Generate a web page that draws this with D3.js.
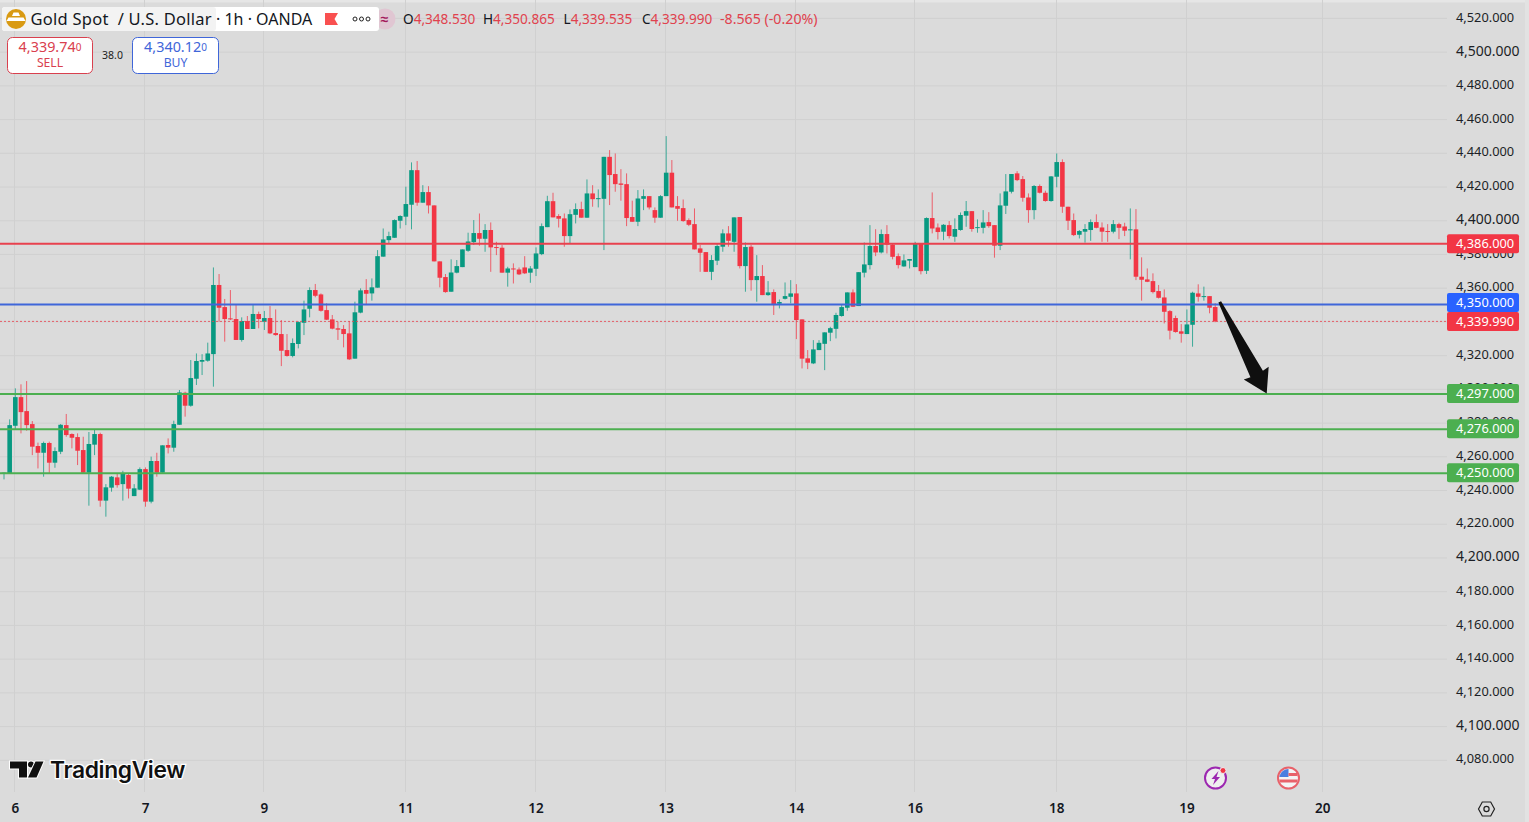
<!DOCTYPE html>
<html>
<head>
<meta charset="utf-8">
<script src="https://cdn.jsdelivr.net/npm/d3@7"></script>
<style>
  html, body { margin: 0; padding: 0; background: #dbdbdb; overflow: hidden; }
  text { font-family: "Noto Sans", sans-serif; }
</style>
</head>
<body>
<script>
// Hourly candles
var opens = [
  4249.9,4249.9,4278.1,4295.1,4286.8,4279.1,4266.1,4262.1,4267.9,4256.2,
  4262.7,4278.5,4273.2,4271.4,4263.7,4250.3,4266.9,4273.2,4233.7,4241.4,
  4247.5,4243.5,4248.9,4236.4,4240.2,4252.4,4233.1,4257.2,4250.3,4266.7,
  4265.1,4278.7,4297.7,4290.0,4306.0,4316.1,4316.7,4320.6,4361.6,4348.5,
  4341.8,4341.4,4329.0,4340.2,4335.5,4344.4,4339.8,4342.0,4333.1,4332.5,
  4323.0,4319.5,4326.6,4339.2,4347.5,4358.6,4356.0,4346.7,4341.2,4335.9,
  4335.5,4332.9,4317.9,4345.2,4358.6,4356.6,4360.0,4378.4,4388.2,4389.6,
  4399.7,4402.1,4409.2,4429.7,4410.4,4416.7,4408.8,4375.6,4366.3,4357.6,
  4368.9,4372.2,4381.9,4387.0,4392.4,4389.0,4394.2,4384.1,4383.7,4368.9,
  4371.4,4370.8,4372.0,4368.9,4371.2,4379.9,4395.9,4411.3,4402.5,4401.1,
  4390.6,4403.2,4406.6,4401.5,4415.9,4412.5,4412.7,4437.6,4427.4,4421.8,
  4421.4,4401.9,4399.1,4412.7,4414.3,4406.0,4401.5,4414.3,4428.2,4408.4,
  4407.2,4400.1,4397.7,4383.3,4381.1,4369.4,4376.0,4384.3,4392.2,4387.2,
  4401.9,4372.8,4384.3,4364.5,4366.9,4355.6,4357.4,4350.5,4353.4,4354.6,
  4356.6,4341.2,4318.1,4315.1,4323.0,4326.7,4333.3,4335.6,4343.2,4348.1,
  4357.2,4349.1,4368.9,4373.4,4384.7,4380.9,4391.8,4385.5,4378.7,4372.6,
  4376.0,4372.2,4386.3,4370.0,4401.3,4395.7,4393.2,4397.1,4390.2,4394.2,
  4402.7,4405.4,4395.5,4395.5,4398.9,4397.1,4384.9,4408.6,4416.9,4427.8,
  4424.4,4413.5,4406.0,4420.3,4416.3,4411.4,4425.8,4434.5,4408.0,4400.1,
  4391.4,4393.2,4394.2,4398.9,4395.7,4393.6,4393.2,4397.7,4396.3,4394.2,
  4394.6,4366.5,4364.9,4363.9,4358.0,4354.2,4346.1,4342.0,4334.1,4332.5,
  4338.0,4356.6,4354.6,4355.0,4348.53
];
var highs = [
  4250.3,4281.9,4300.3,4302.7,4304.6,4280.9,4268.1,4268.7,4268.7,4265.3,
  4279.1,4285.1,4273.6,4273.6,4271.6,4274.4,4275.6,4274.0,4243.5,4248.3,
  4249.9,4251.4,4249.9,4243.5,4253.4,4253.4,4259.8,4262.1,4266.5,4270.6,
  4281.1,4299.3,4298.3,4317.1,4321.0,4320.6,4327.4,4372.0,4368.1,4353.3,
  4358.6,4349.7,4342.4,4343.2,4349.7,4345.8,4346.2,4349.1,4347.1,4340.8,
  4332.5,4329.9,4340.0,4352.3,4360.2,4362.2,4356.6,4350.7,4343.8,4339.8,
  4337.8,4340.2,4351.7,4359.6,4365.1,4365.5,4382.3,4395.1,4393.2,4400.5,
  4403.0,4419.9,4434.3,4435.1,4420.8,4420.2,4408.8,4375.6,4368.1,4376.8,
  4376.4,4382.7,4392.6,4400.1,4404.0,4397.7,4398.7,4387.2,4385.3,4372.4,
  4374.4,4372.0,4378.7,4372.8,4383.9,4398.1,4414.5,4416.3,4403.6,4404.0,
  4406.4,4410.0,4411.0,4424.2,4420.8,4418.3,4437.6,4441.6,4439.6,4430.3,
  4427.8,4411.6,4417.9,4418.3,4414.3,4407.6,4414.9,4449.9,4435.7,4414.3,
  4412.3,4401.1,4407.0,4385.3,4381.1,4379.3,4386.2,4394.6,4396.5,4401.7,
  4401.9,4386.8,4385.3,4379.3,4373.4,4363.9,4359.0,4353.0,4363.1,4364.5,
  4362.1,4341.2,4323.0,4328.9,4328.9,4333.5,4336.8,4345.1,4349.7,4357.2,
  4359.0,4369.2,4386.8,4397.1,4394.7,4394.5,4397.1,4386.3,4380.3,4379.7,
  4377.0,4387.2,4386.3,4401.7,4416.5,4398.1,4397.7,4399.5,4401.1,4404.6,
  4411.4,4405.4,4400.5,4406.0,4404.8,4397.1,4415.9,4427.4,4427.4,4429.1,
  4426.2,4415.9,4420.9,4421.2,4417.5,4426.2,4439.6,4436.1,4408.0,4404.0,
  4394.2,4397.7,4400.5,4403.5,4398.7,4397.7,4400.1,4398.5,4398.5,4407.0,
  4406.6,4378.0,4371.4,4368.5,4361.6,4359.0,4346.7,4343.4,4338.4,4347.1,
  4357.6,4362.0,4360.6,4355.0,4350.865
];
var lows = [
  4246.3,4249.9,4275.6,4273.6,4275.2,4260.7,4252.8,4247.9,4249.9,4253.2,
  4261.3,4271.6,4264.7,4254.8,4249.9,4230.7,4260.7,4230.1,4224.2,4239.0,
  4241.4,4233.7,4235.0,4236.4,4240.0,4230.1,4232.1,4247.9,4250.3,4261.7,
  4262.7,4278.7,4283.5,4289.4,4302.3,4308.2,4316.1,4301.3,4339.8,4328.0,
  4340.8,4329.0,4328.0,4335.5,4335.5,4335.9,4334.9,4332.5,4331.5,4313.5,
  4319.1,4318.7,4324.0,4331.9,4342.4,4354.3,4345.8,4340.8,4335.3,4329.0,
  4324.6,4317.1,4317.9,4344.8,4349.7,4352.3,4360.0,4378.4,4386.2,4389.6,
  4395.1,4397.1,4394.6,4408.6,4410.4,4404.0,4375.6,4360.2,4357.0,4357.6,
  4368.5,4372.2,4381.3,4385.3,4384.9,4381.3,4369.4,4379.3,4368.9,4360.6,
  4362.5,4367.5,4368.1,4362.9,4366.9,4379.3,4395.9,4401.7,4395.7,4384.3,
  4385.9,4398.1,4401.5,4401.5,4408.0,4407.6,4382.3,4409.0,4416.9,4411.6,
  4396.5,4399.1,4396.5,4406.0,4406.4,4398.5,4401.5,4414.3,4407.6,4399.7,
  4399.1,4396.5,4382.7,4369.4,4369.4,4364.5,4373.4,4381.3,4384.3,4381.3,
  4371.4,4357.6,4358.2,4351.7,4355.6,4355.2,4343.8,4347.7,4353.0,4350.7,
  4329.5,4312.1,4311.7,4314.7,4323.0,4311.1,4328.3,4329.9,4342.8,4346.3,
  4348.7,4349.1,4366.1,4370.8,4378.7,4380.3,4380.3,4376.8,4371.4,4372.4,
  4371.4,4372.2,4367.9,4368.1,4392.2,4388.6,4388.2,4389.2,4387.2,4393.8,
  4396.1,4393.2,4392.6,4392.2,4395.5,4377.8,4382.3,4403.7,4415.9,4423.2,
  4411.0,4398.5,4400.5,4415.9,4411.0,4411.0,4419.5,4404.4,4394.2,4390.6,
  4389.2,4386.7,4387.8,4395.2,4387.2,4387.2,4392.2,4388.8,4390.6,4376.8,
  4364.5,4352.3,4363.3,4356.6,4353.6,4338.8,4329.3,4333.3,4327.4,4332.5,
  4325.0,4351.7,4352.3,4344.8,4339.535
];
var closes = [
  4250.3,4278.5,4295.1,4286.2,4278.5,4265.7,4262.1,4267.9,4256.2,4263.1,
  4278.7,4272.6,4271.0,4263.3,4250.3,4267.3,4273.2,4233.7,4241.6,4247.9,
  4242.9,4249.9,4240.8,4241.0,4252.4,4233.1,4257.2,4250.3,4266.5,4265.1,
  4279.1,4297.9,4290.0,4306.4,4316.5,4317.1,4321.0,4361.6,4348.1,4341.4,
  4341.2,4329.0,4340.2,4335.5,4344.4,4341.4,4342.0,4332.9,4331.9,4322.6,
  4319.5,4327.2,4339.6,4347.1,4358.6,4355.2,4346.3,4341.0,4335.7,4335.1,
  4332.5,4317.5,4345.4,4358.4,4356.4,4360.2,4378.7,4388.6,4390.6,4400.1,
  4402.5,4409.6,4429.7,4410.4,4416.7,4408.8,4375.6,4365.9,4357.4,4369.0,
  4372.8,4382.7,4387.4,4392.4,4389.0,4394.2,4383.9,4383.7,4368.9,4371.4,
  4370.8,4367.9,4368.5,4371.4,4380.3,4396.5,4411.3,4401.7,4400.9,4390.6,
  4403.6,4406.6,4401.5,4415.9,4412.5,4413.1,4437.6,4426.8,4421.4,4421.0,
  4401.3,4399.1,4412.9,4414.3,4407.6,4401.5,4414.3,4428.2,4407.6,4406.8,
  4399.5,4397.3,4382.7,4380.7,4369.4,4376.4,4384.7,4392.2,4387.8,4401.7,
  4372.8,4384.1,4364.5,4366.9,4355.6,4357.2,4349.7,4351.5,4355.0,4356.6,
  4340.8,4317.9,4315.5,4323.4,4327.3,4333.5,4336.0,4343.8,4348.5,4357.2,
  4348.7,4369.2,4373.8,4384.7,4380.9,4391.8,4385.5,4378.3,4373.4,4376.2,
  4377.0,4386.3,4369.8,4401.3,4395.1,4393.0,4397.3,4390.6,4394.8,4403.1,
  4405.4,4394.8,4395.9,4398.7,4396.5,4384.9,4408.8,4417.1,4427.4,4423.8,
  4413.3,4406.0,4420.3,4416.3,4411.4,4426.0,4434.5,4408.0,4399.7,4391.2,
  4393.6,4394.8,4398.9,4395.5,4393.2,4393.2,4397.7,4395.5,4393.8,4394.6,
  4366.5,4364.7,4363.5,4357.4,4354.0,4345.7,4334.5,4333.7,4332.7,4338.2,
  4357.0,4354.6,4355.0,4348.1,4339.99
];

// Price axis ticks and the big round ones
var price_ticks = [4520,4500,4480,4460,4440,4420,4400,4380,4360,4340,4320,4300,4280,4260,4240,4220,4200,4180,4160,4140,4120,4100,4080];
var big_ticks = [4500,4400,4200,4100];

// Day labels sit on a candle index
var day_index = [2,25,46,71,94,117,140,161,186,209,233];
var day_labels = ["6","7","9","11","12","13","14","16","18","19","20"];

// Horizontal levels drawn on the chart
var level_prices = [4386,4350,4297,4276,4250];
var level_names = ["4,386.000","4,350.000","4,297.000","4,276.000","4,250.000"];
var level_colors = ["#e8414e","#3f66d9","#4caf50","#4caf50","#4caf50"];
var last_price = 4339.99;
var last_label = "4,339.990";

// Arrow annotation as [candle index, price]
var arrow_from = [214.8, 4351.6];
var arrow_to = [223.1, 4297.2];

var width = 1529, height = 822;
var chart_right = 1447, chart_bottom = 792;
var up_color = "#089981", down_color = "#f23645";

var svg = d3.select("body").append("svg")
    .attr("width", width)
    .attr("height", height)
    .style("display", "block");

svg.append("rect").attr("width", width).attr("height", height).attr("fill", "#dbdbdb");
svg.append("rect").attr("width", width).attr("height", 2.5).attr("fill", "#e6e6e6");
svg.append("rect").attr("x", 1525).attr("width", 4).attr("height", height).attr("fill", "#e2e2e2");

// Scales
var xScale = d3.scaleLinear().domain([0, 214]).range([4, 1215.2]);
var yScale = d3.scaleLinear().domain([4080, 4520]).range([759.8, 17.9]);
var fmt = d3.format(",.3f");

// Grid
svg.append("g").selectAll("line").data(price_ticks).join("line")
    .attr("x1", 0).attr("x2", chart_right)
    .attr("y1", d => yScale(d) + 0.5).attr("y2", d => yScale(d) + 0.5)
    .attr("stroke", "#d0d0d0");
svg.append("g").selectAll("line").data(day_index).join("line")
    .attr("x1", d => Math.round(xScale(d)) - 0.5).attr("x2", d => Math.round(xScale(d)) - 0.5)
    .attr("y1", 0).attr("y2", chart_bottom)
    .attr("stroke", "#d0d0d0");

// Price axis
var yAxis = d3.axisRight(yScale).tickValues(price_ticks).tickSize(0).tickPadding(0).tickFormat(fmt);
var y_axis = svg.append("g").attr("transform", "translate(1456,-1)").call(yAxis);
y_axis.select(".domain").remove();
y_axis.selectAll("text")
    .attr("fill", "#1c1f26")
    .style("font-size", d => big_ticks.indexOf(d) >= 0 ? "14px" : "12.8px");

// Day axis
var xAxis = d3.axisBottom(xScale).tickValues(day_index).tickSize(0).tickPadding(0)
    .tickFormat((d, i) => day_labels[i]);
var x_axis = svg.append("g").attr("transform", "translate(-0.5,803)").call(xAxis);
x_axis.select(".domain").remove();
x_axis.selectAll("text").attr("fill", "#131722").style("font-size", "13.5px").style("font-weight", 600);

// Candles
var candles = d3.range(opens.length);
var candle_g = svg.append("g");
candle_g.selectAll("line").data(candles).join("line")
    .attr("x1", i => xScale(i)).attr("x2", i => xScale(i))
    .attr("y1", i => yScale(highs[i])).attr("y2", i => yScale(lows[i]))
    .attr("stroke", i => closes[i] >= opens[i] ? up_color : down_color)
    .attr("stroke-opacity", 0.75)
    .attr("stroke-width", 1);
candle_g.selectAll("rect").data(candles).join("rect")
    .attr("x", i => xScale(i) - 2.3)
    .attr("width", 4.6)
    .attr("y", i => yScale(Math.max(opens[i], closes[i])))
    .attr("height", i => Math.max(1, Math.abs(yScale(opens[i]) - yScale(closes[i]))))
    .attr("fill", i => closes[i] >= opens[i] ? up_color : down_color);

// Levels and their labels
svg.append("g").selectAll("line").data(level_prices).join("line")
    .attr("x1", 0).attr("x2", chart_right)
    .attr("y1", d => yScale(d)).attr("y2", d => yScale(d))
    .attr("stroke", (d, i) => level_colors[i])
    .attr("stroke-width", 2);
svg.append("line")
    .attr("x1", 0).attr("x2", chart_right)
    .attr("y1", yScale(last_price)).attr("y2", yScale(last_price))
    .attr("stroke", "#e8414e").attr("stroke-opacity", 0.8).attr("stroke-width", 1).attr("stroke-dasharray", "2 2");

// Arrow
var ax = xScale(arrow_from[0]), ay = yScale(arrow_from[1]);
var bx = xScale(arrow_to[0]), by = yScale(arrow_to[1]);
var arrow_len = Math.hypot(bx - ax, by - ay);
var ux = (bx - ax) / arrow_len, uy = (by - ay) / arrow_len;
function arrow_pt(along, side) {
  return [ax + ux * along - uy * side, ay + uy * along + ux * side];
}
var head = arrow_len - 22;
svg.append("polygon")
    .attr("points", [arrow_pt(0, -1.5), arrow_pt(head, -7), arrow_pt(head - 1, -14), arrow_pt(arrow_len, 0),
        arrow_pt(head - 1, 14), arrow_pt(head, 7), arrow_pt(0, 1.5)].map(p => p.join(",")).join(" "))
    .attr("fill", "#0f0f0f");

// Price labels on the axis
function price_label(price, text, color, cy) {
  svg.append("rect").attr("x", 1447).attr("y", cy - 9.5).attr("width", 72).attr("height", 19).attr("rx", 2).attr("fill", color);
  svg.append("text").attr("x", 1456).attr("y", cy + 4.5).attr("fill", "#fff").style("font-size", "12.8px").text(text);
}
price_label(4386, level_names[0], "#f23645", yScale(4386));
price_label(4297, level_names[2], "#4caf50", yScale(4297) - 0.5);
price_label(4276, level_names[3], "#4caf50", yScale(4276) - 0.5);
price_label(4250, level_names[4], "#4caf50", yScale(4250) - 0.5);
price_label(4350, level_names[1], "#2962ff", yScale(4350) - 2);
price_label(last_price, last_label, "#f23645", yScale(last_price));

// Legend bar
svg.append("circle").attr("cx", 385).attr("cy", 19).attr("r", 10.5).attr("fill", "#e0c6d2");
svg.append("text").attr("x", 384.5).attr("y", 24).attr("text-anchor", "middle").attr("fill", "#a3195b")
    .style("font-size", "14px").style("font-weight", 700).text("≈");
svg.append("rect").attr("x", 2).attr("y", 7).attr("width", 377).attr("height", 24).attr("rx", 3).attr("fill", "#fff");
svg.append("rect").attr("x", 2).attr("y", 7).attr("width", 214).attr("height", 24).attr("rx", 3).attr("fill", "#f3f3f3");
svg.append("circle").attr("cx", 16).attr("cy", 19).attr("r", 10).attr("fill", "#d99a12");
svg.append("path").attr("d", "M13.5 12.5h5l1.5 3.5h-8z M8.5 17.5h15l2 3.5h-19z").attr("fill", "#fff");
svg.append("text").attr("x", 30.5).attr("y", 25).attr("fill", "#131722").style("font-size", "16.5px")
    .text("Gold Spot\u00a0 / U.S. Dollar").style("letter-spacing", "0.25px");
svg.append("text").attr("x", 216).attr("y", 25).attr("fill", "#131722").style("font-size", "16px").text("· 1h · OANDA");
svg.append("path").attr("d", "M325 13h13l-3.5 6 3.5 6h-13z").attr("fill", "#f95050");
svg.append("g").selectAll("circle").data([0, 1, 2]).join("circle")
    .attr("cx", d => 355 + d * 6.5).attr("cy", 19).attr("r", 2)
    .attr("fill", "#fff").attr("stroke", "#222").attr("stroke-width", 1);

// OHLC readout
var ohlc_x = [403, 483, 563.5, 642];
var ohlc_key = ["O", "H", "L", "C"];
var ohlc_val = ["4,348.530", "4,350.865", "4,339.535", "4,339.990"];
var readout = svg.append("g").style("font-size", "13.6px");
ohlc_key.forEach(function (k, i) {
  var t = readout.append("text").attr("x", ohlc_x[i]).attr("y", 24);
  t.append("tspan").attr("fill", "#131722").text(k);
  t.append("tspan").attr("fill", "#e0424e").text(ohlc_val[i]);
});
readout.append("text").attr("x", 720).attr("y", 24).attr("fill", "#e0424e").style("font-size", "14.2px").text("-8.565 (-0.20%)");

// Sell and buy boxes
function trade_box(x, w, color, price, tail, label) {
  svg.append("rect").attr("x", x).attr("y", 37.5).attr("width", w).attr("height", 36).attr("rx", 5)
      .attr("fill", "#fff").attr("stroke", color);
  var t = svg.append("text").attr("x", x + w / 2).attr("y", 52).attr("text-anchor", "middle").attr("fill", color);
  t.append("tspan").style("font-size", "14.4px").text(price);
  t.append("tspan").style("font-size", "10px").attr("dy", -1.5).text(tail);
  svg.append("text").attr("x", x + w / 2).attr("y", 67).attr("text-anchor", "middle").attr("fill", color)
      .style("font-size", "12.2px").text(label);
}
trade_box(7.5, 85, "#d9404e", "4,339.74", "0", "SELL");
trade_box(132.5, 86, "#3f66d9", "4,340.12", "0", "BUY");
svg.append("text").attr("x", 112.5).attr("y", 59).attr("text-anchor", "middle").attr("fill", "#222")
    .style("font-size", "10.5px").text("38.0");

// TradingView logo
var logo = svg.append("g").attr("fill", "#111").attr("stroke", "#fff").attr("stroke-width", 2).attr("paint-order", "stroke");
logo.append("path").attr("d", "M10 761.5h17v16h-8v-9h-9z");
logo.append("circle").attr("cx", 31).attr("cy", 764.5).attr("r", 3);
logo.append("path").attr("d", "M35.5 761.5h8l-7 16h-8.5z");
svg.append("text").attr("x", 50).attr("y", 778).attr("fill", "#111")
    .attr("stroke", "#fff").attr("stroke-width", 2.5).attr("paint-order", "stroke")
    .style("font-family", "Inter").style("font-size", "22.8px").style("font-weight", 600).style("letter-spacing", "-0.35px")
    .text("TradingView");

// Event icons at the bottom
svg.append("circle").attr("cx", 1215.5).attr("cy", 778).attr("r", 10.5).attr("fill", "#eee").attr("stroke", "#9c27b0").attr("stroke-width", 2);
svg.append("path").attr("d", "M1218.5 771l-7 8h3.5l-2 6 7-8h-3.5z").attr("fill", "#9c27b0");
svg.append("circle").attr("cx", 1223).attr("cy", 770.5).attr("r", 3).attr("fill", "#f23645").attr("stroke", "#eee");
svg.append("circle").attr("cx", 1288.5).attr("cy", 778).attr("r", 10.5).attr("fill", "#f4f4f4").attr("stroke", "#e8626a").attr("stroke-width", 2);
svg.append("path").attr("d", "M1279.5 777v-1a9 9 0 0 1 9 -7v8z").attr("fill", "#4a7fe0");
svg.append("path").attr("d", "M1288.5 773h9v3h-9z M1279.5 779.5h18v3h-18z").attr("fill", "#e8626a");

// Settings hexagon
svg.append("path").attr("d", "M1478.5 809l3.8-7h8.4l3.8 7-3.8 7h-8.4z").attr("fill", "none").attr("stroke", "#222").attr("stroke-width", 1.2);
svg.append("circle").attr("cx", 1486.5).attr("cy", 809).attr("r", 2.6).attr("fill", "none").attr("stroke", "#222").attr("stroke-width", 1.2);
</script>
</body>
</html>
